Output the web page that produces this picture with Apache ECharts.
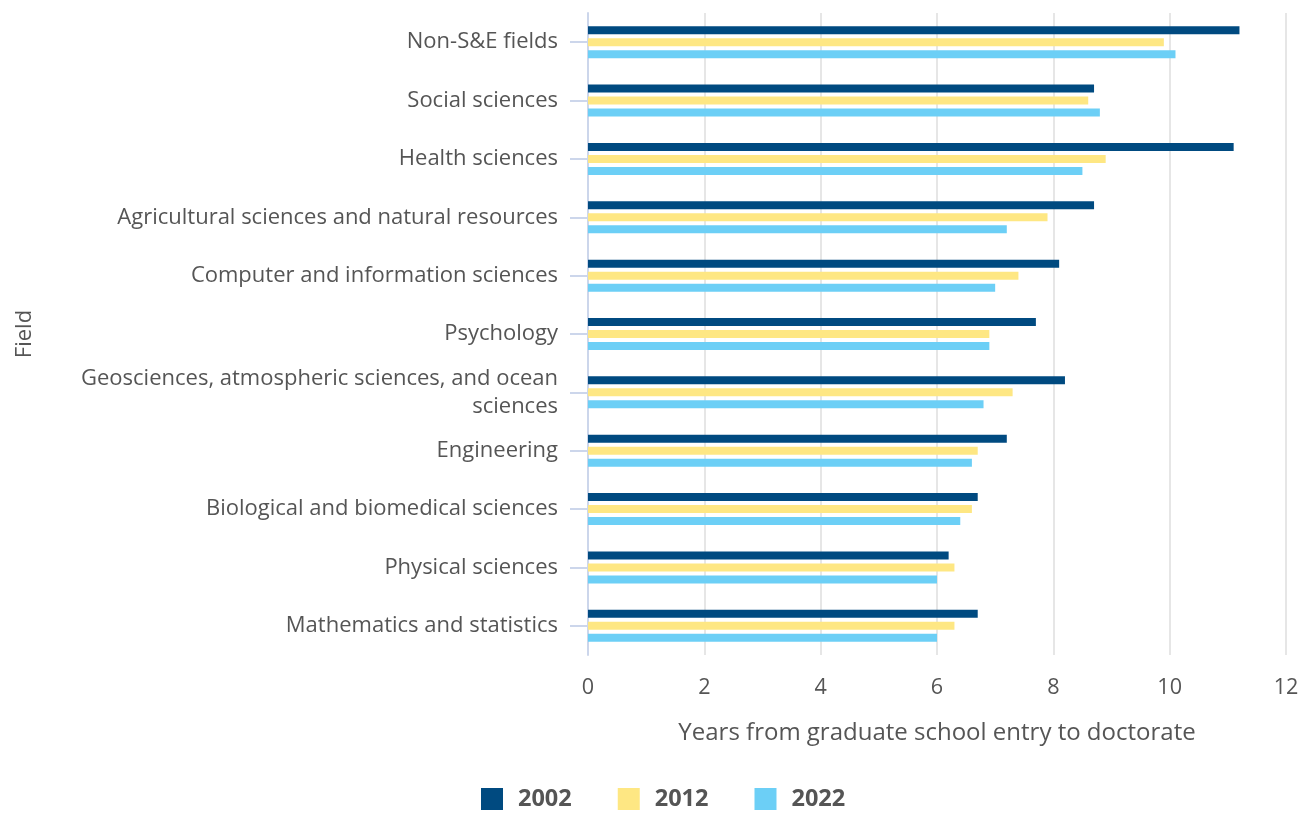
<!DOCTYPE html>
<html>
<head>
<meta charset="utf-8">
<script src="https://cdn.jsdelivr.net/npm/echarts@6/dist/echarts.min.js"></script>
<style>
html,body{margin:0;padding:0;background:#fff;}
#chart{width:1309px;height:813px;}
</style>
</head>
<body>
<div id="chart"></div>
<script>
const categories = [
  "Non-S&E fields",
  "Social sciences",
  "Health sciences",
  "Agricultural sciences and natural resources",
  "Computer and information sciences",
  "Psychology",
  "Geosciences, atmospheric sciences, and ocean sciences",
  "Engineering",
  "Biological and biomedical sciences",
  "Physical sciences",
  "Mathematics and statistics"
];
const seriesNames = ["2002", "2012", "2022"];
const values2002 = [11.2, 8.7, 11.1, 8.7, 8.1, 7.7, 8.2, 7.2, 6.7, 6.2, 6.7];
const values2012 = [9.9, 8.6, 8.9, 7.9, 7.4, 6.9, 7.3, 6.7, 6.6, 6.3, 6.3];
const values2022 = [10.1, 8.8, 8.5, 7.2, 7.0, 6.9, 6.8, 6.6, 6.4, 6.0, 6.0];
const colors = ["#004a80", "#fee783", "#6ccff6"];
const xTicks = [0, 2, 4, 6, 8, 10, 12];

const font = "'Open Sans', 'Noto Sans', sans-serif";
const chart = echarts.init(document.getElementById('chart'), null, {renderer: 'canvas'});
const data = [values2002, values2012, values2022];

// wrap long labels at word boundaries (max ~45 chars per line)
function wrapLabel(v) {
  const words = v.split(' ');
  const lines = [];
  let cur = '';
  words.forEach(w => {
    const t = cur ? cur + ' ' + w : w;
    if (t.length > 45 && cur) { lines.push(cur); cur = w; } else { cur = t; }
  });
  lines.push(cur);
  return lines.join('\n');
}

chart.setOption({
  animation: false,
  color: colors,
  textStyle: {fontFamily: font},
  grid: {left: 588, right: 23, top: 13, bottom: 158, containLabel: false},
  legend: {
    bottom: 2,
    left: 481,
    padding: 0,
    itemWidth: 22,
    itemHeight: 22,
    itemGap: 46,
    icon: 'rect',
    textStyle: {fontFamily: font, fontSize: 23.5, fontWeight: 'bold', color: '#555', padding: [0, 0, 0, 10]},
    data: seriesNames
  },
  xAxis: {
    type: 'value',
    min: xTicks[0],
    max: xTicks[xTicks.length - 1],
    interval: 2,
    name: 'Years from graduate school entry to doctorate',
    nameLocation: 'middle',
    nameGap: 66,
    nameTextStyle: {fontFamily: font, fontSize: 24, color: '#555'},
    axisLine: {show: false},
    axisTick: {show: false},
    axisLabel: {fontFamily: font, fontSize: 21.6, color: '#555', margin: 22},
    splitLine: {show: true, lineStyle: {color: '#e6e6e6', width: 2}}
  },
  yAxis: {
    type: 'category',
    inverse: true,
    data: categories,
    name: 'Field',
    nameLocation: 'middle',
    nameGap: 552,
    nameRotate: 90,
    nameTextStyle: {fontFamily: font, fontSize: 22, color: '#555'},
    axisLine: {show: true, lineStyle: {color: '#ccd6eb', width: 2}},
    axisTick: {show: true, alignWithLabel: true, length: 18, lineStyle: {color: '#ccd6eb', width: 2}},
    axisLabel: {
      fontFamily: font, fontSize: 22, color: '#555', margin: 30,
      lineHeight: 28, align: 'right',
      formatter: wrapLabel
    },
    splitLine: {show: false}
  },
  series: seriesNames.map((n, i) => ({
    name: n,
    type: 'bar',
    data: data[i],
    barWidth: 8,
    barGap: '50%',
    itemStyle: {color: colors[i]}
  }))
});
</script>
</body>
</html>
